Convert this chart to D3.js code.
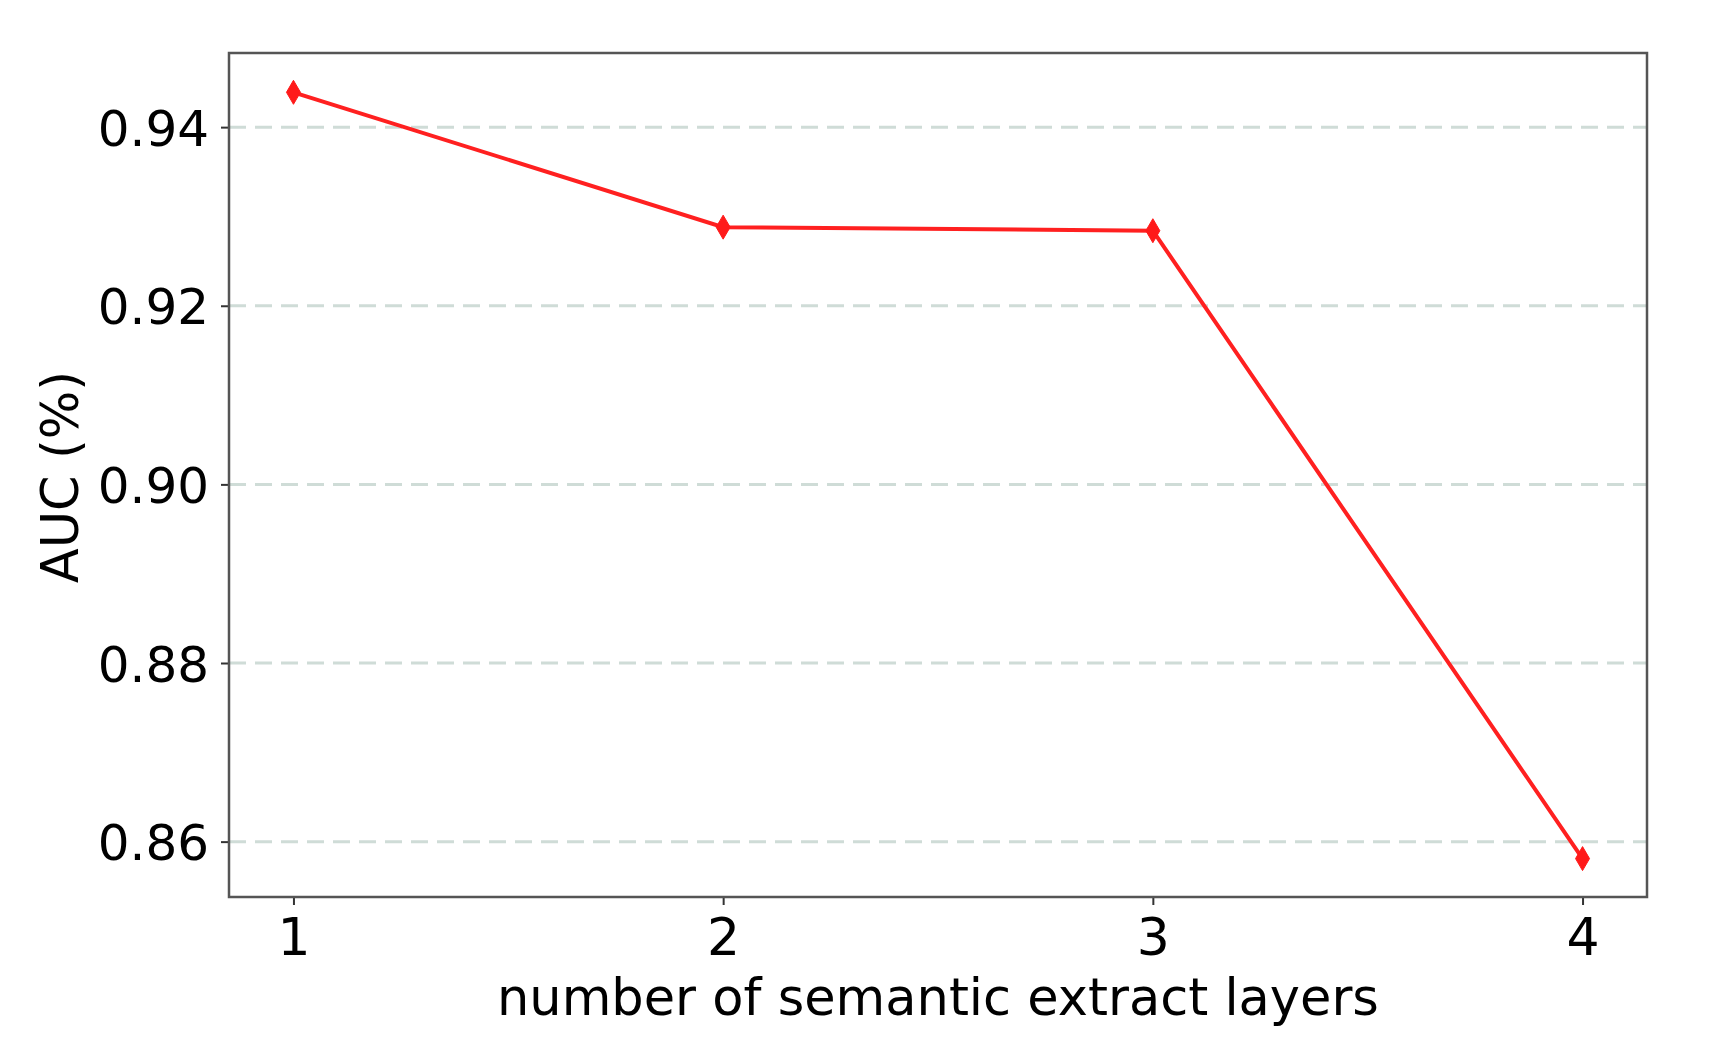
<!DOCTYPE html>
<html><head><meta charset="utf-8">
<script src="https://cdn.jsdelivr.net/npm/d3@7"></script>
<style>html,body{margin:0;padding:0;background:#fff;}svg{display:block;}text{font-family:"DejaVu Sans",sans-serif;fill:#000;}</style>
</head><body>
<svg id="chart" width="1713" height="1042"></svg>
<script>
const layers = [1, 2, 3, 4];
const auc = [0.9439, 0.9288, 0.9284, 0.8581];
const yTicks = [0.86, 0.88, 0.90, 0.92, 0.94];
const xTicks = [1, 2, 3, 4];
const xLabel = "number of semantic extract layers";
const yLabel = "AUC (%)";

const L = 229, R = 1647, T = 53, B = 897;
const svg = d3.select("#chart");
const x = d3.scaleLinear().domain([0.85, 4.15]).range([L, R]);
const y = d3.scaleLinear().domain([0.8538, 0.9483]).range([B, T]);

// grid
svg.append("g").selectAll("line").data(yTicks).join("line")
  .attr("x1", L).attr("x2", R).attr("y1", d => y(d)).attr("y2", d => y(d))
  .attr("stroke", "#cfdcd7").attr("stroke-width", 3).attr("stroke-dasharray", "17,9");

// axes
const yAxis = svg.append("g").attr("transform", `translate(${L},0)`)
  .call(d3.axisLeft(y).tickValues(yTicks).tickFormat(d3.format(".2f")).tickSize(8).tickPadding(12));
const xAxis = svg.append("g").attr("transform", `translate(0,${B})`)
  .call(d3.axisBottom(x).tickValues(xTicks).tickFormat(d3.format("d")).tickSize(8).tickPadding(10));
[yAxis, xAxis].forEach(g => {
  g.select(".domain").remove();
  g.selectAll(".tick line").attr("stroke", "#333").attr("stroke-width", 2);
  g.selectAll(".tick text").attr("font-size", 50).attr("font-family", "DejaVu Sans, sans-serif").attr("fill", "#000");
});
yAxis.selectAll(".tick text").attr("dy", "0.36em");
xAxis.selectAll(".tick text").attr("dy", "0.76em").attr("font-size", 52);

// frame
svg.append("rect").attr("x", L).attr("y", T).attr("width", R - L).attr("height", B - T)
  .attr("fill", "none").attr("stroke", "#555").attr("stroke-width", 2.5);

// line
const pts = layers.map((d, i) => [d, auc[i]]);
svg.append("path").datum(pts)
  .attr("d", d3.line().x(d => x(d[0])).y(d => y(d[1])))
  .attr("fill", "none").attr("stroke", "#ff2020").attr("stroke-width", 4);

// thin diamond markers
svg.append("g").selectAll("path").data(pts).join("path")
  .attr("transform", d => `translate(${x(d[0])},${y(d[1])})`)
  .attr("d", "M0,-12L7,0L0,12L-7,0Z")
  .attr("fill", "#ff1a1a").attr("stroke", "#ff1a1a").attr("stroke-width", 1);

// labels
svg.append("text").attr("x", (L + R) / 2).attr("y", 1015).attr("text-anchor", "middle")
  .attr("font-size", 51).text(xLabel);
svg.append("text").attr("transform", `translate(78,477) rotate(-90)`).attr("text-anchor", "middle")
  .attr("font-size", 51).text(yLabel);
</script>
</body></html>
